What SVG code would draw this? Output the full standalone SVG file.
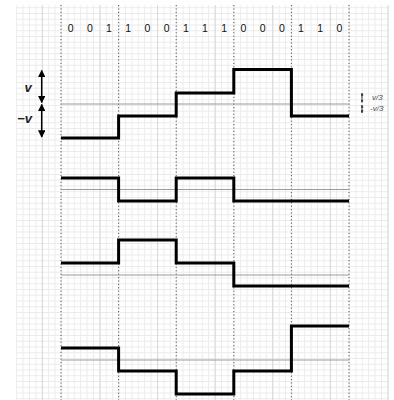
<svg xmlns="http://www.w3.org/2000/svg" width="394" height="400" viewBox="0 0 394 400">
<defs>
<style>
.bg{fill:#ffffff}
.minor{stroke:#ebebeb;stroke-width:1;fill:none}
.major{stroke:#d8d8d8;stroke-width:1;fill:none}
.dot{stroke:#555;stroke-width:1;stroke-dasharray:1.2 2.2;fill:none}
.ref{stroke:#9a9a9a;stroke-width:1;fill:none}
.sig{stroke:#000;stroke-width:3;fill:none;stroke-linejoin:miter}
.bit{font-family:"Liberation Sans",Arial,sans-serif;font-size:10.5px;fill:#111;text-anchor:middle}
.lbl{font-family:"Liberation Sans",Arial,sans-serif;font-size:13px;font-style:italic;font-weight:bold;fill:#222;text-anchor:middle}
.sm{font-family:"Liberation Sans",Arial,sans-serif;font-size:8px;font-style:italic;fill:#444}
.arr{stroke:#000;stroke-width:1.5;fill:none}
.arrs{stroke:#333;stroke-width:1;fill:none}
</style>
<marker id="ah" viewBox="0 0 10 10" refX="9" refY="5" markerWidth="5" markerHeight="5" orient="auto-start-reverse" markerUnits="strokeWidth"><path d="M0,0 L10,5 L0,10 z" fill="#000"/></marker>
<marker id="ahs" viewBox="0 0 10 10" refX="9" refY="5" markerWidth="3" markerHeight="3" orient="auto-start-reverse" markerUnits="strokeWidth"><path d="M0,0 L10,5 L0,10 z" fill="#333"/></marker>
<pattern id="g" x="16.2" y="1.5" width="6.4" height="5.75" patternUnits="userSpaceOnUse"><path d="M0.5,0 V5.75 M0,0.5 H6.4" class="minor"/></pattern>
</defs>
<rect class="bg" x="0" y="0" width="394" height="400"/>
<g id="grid">
<rect x="16" y="5" width="373" height="395" fill="url(#g)"/>
<path class="major" d="M42.4,5 V400 M100,5 V400 M157.6,5 V400 M215.2,5 V400 M272.8,5 V400 M330.4,5 V400 M388,5 V400"/>
</g>
<g id="dividers">
<path class="dot" d="M61,5 V400 M118.6,5 V400 M176.2,5 V400 M233.8,5 V400 M291.4,5 V400 M349,5 V400"/>
</g>
<g id="bits">
<text class="bit" x="70.6" y="32">0</text>
<text class="bit" x="89.8" y="32">0</text>
<text class="bit" x="109" y="32">1</text>
<text class="bit" x="128.2" y="32">1</text>
<text class="bit" x="147.4" y="32">0</text>
<text class="bit" x="166.6" y="32">0</text>
<text class="bit" x="185.8" y="32">1</text>
<text class="bit" x="205" y="32">1</text>
<text class="bit" x="224.2" y="32">1</text>
<text class="bit" x="243.4" y="32">0</text>
<text class="bit" x="262.6" y="32">0</text>
<text class="bit" x="281.8" y="32">0</text>
<text class="bit" x="301" y="32">1</text>
<text class="bit" x="320.2" y="32">1</text>
<text class="bit" x="339.4" y="32">0</text>
</g>
<g id="references">
<path class="ref" d="M61,104 H349 M61,189.5 H349 M61,275 H349 M61,360 H349"/>
</g>
<g id="signal1"><path class="sig" d="M61,138 H118.6 V116 H176.2 V93 H233.8 V69.5 H291.4 V116 H349"/></g>
<g id="signal2"><path class="sig" d="M61,178 H118.6 V201 H176.2 V178 H233.8 V201 H349"/></g>
<g id="signal3"><path class="sig" d="M61,263 H118.6 V240 H176.2 V263 H233.8 V286 H349"/></g>
<g id="signal4"><path class="sig" d="M61,348 H118.6 V371 H176.2 V394 H233.8 V371 H291.4 V326 H349"/></g>
<g id="scale-left">
<path class="arr" d="M41.7,70.5 V102.5" marker-start="url(#ah)" marker-end="url(#ah)"/>
<path class="arr" d="M41.7,104.5 V137" marker-start="url(#ah)" marker-end="url(#ah)"/>
<text class="lbl" x="28" y="92">v</text>
<text class="lbl" x="24.5" y="123">−v</text>
</g>
<g id="scale-right">
<path class="arrs" d="M362,93 V102.5" marker-start="url(#ahs)" marker-end="url(#ahs)"/>
<path class="arrs" d="M362,105 V113" marker-start="url(#ahs)" marker-end="url(#ahs)"/>
<text class="sm" x="372" y="100">v/3</text>
<text class="sm" x="370" y="111">-v/3</text>
</g>
</svg>
